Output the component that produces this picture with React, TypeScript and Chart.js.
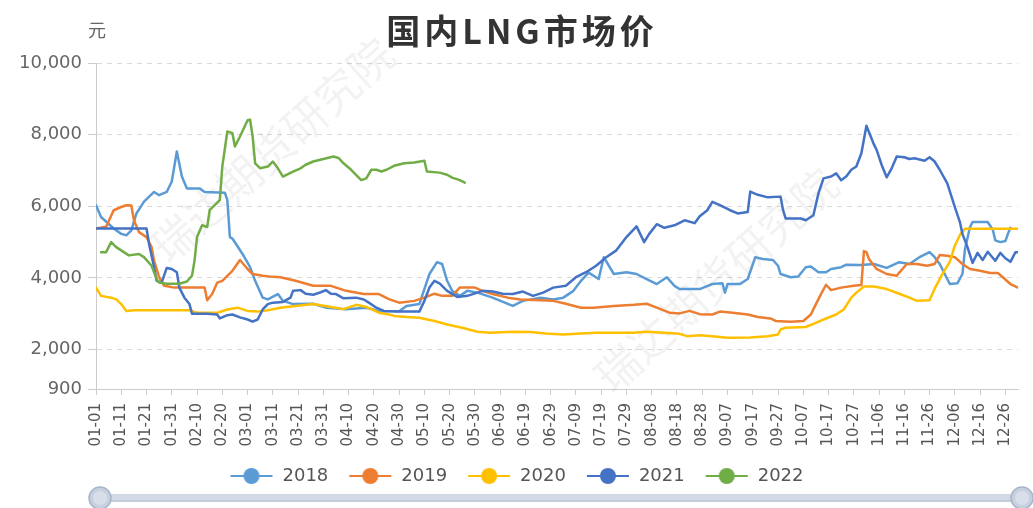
import React, { useEffect, useRef } from 'react';
import { Chart, registerables } from 'chart.js';

Chart.register(...registerables);

const chartTitle = '国内LNG市场价';
const unitLabel = '元';
const watermarkText = '瑞达期货研究院';

const seriesNames = ['2018', '2019', '2020', '2021', '2022'];
const seriesColors = ['#5B9BD5', '#ED7D31', '#FFC000', '#4472C4', '#70AD47'];

const xTickDays = [0, 10, 20, 30, 40, 50, 60, 70, 80, 90, 100, 110, 120, 130, 140, 150, 160, 170, 180, 190, 200, 210, 220, 230, 240, 250, 260, 270, 280, 290, 300, 310, 320, 330, 340, 350, 360];
const xTickLabels = ['01-01', '01-11', '01-21', '01-31', '02-10', '02-20', '03-01', '03-11', '03-21', '03-31', '04-10', '04-20', '04-30', '05-10', '05-20', '05-30', '06-09', '06-19', '06-29', '07-09', '07-19', '07-29', '08-08', '08-18', '08-28', '09-07', '09-17', '09-27', '10-07', '10-17', '10-27', '11-06', '11-16', '11-26', '12-06', '12-16', '12-26'];
const yTickValues = [900, 2000, 4000, 6000, 8000, 10000];

// day of year (0 = 01-01) and price
const d2018 = [0, 2, 7, 10, 12, 14, 16, 19, 23, 25, 28, 30, 32, 34, 36, 41, 43, 51, 52, 53, 54, 58, 61, 63, 66, 68, 72, 74, 78, 86, 91, 99, 107, 112, 120, 123, 128, 132, 135, 137, 139, 141, 144, 147, 151, 157, 165, 169, 176, 181, 185, 189, 192, 195, 199, 201, 205, 210, 214, 218, 222, 226, 229, 231, 239, 244, 248, 249, 250, 255, 258, 261, 264, 268, 270, 271, 275, 278, 281, 283, 286, 289, 291, 295, 297, 303, 308, 313, 318, 322, 326, 330, 332, 334, 336, 338, 341, 343, 344, 346, 347, 353, 355, 356, 358, 360, 361, 362];
const v2018 = [6030, 5700, 5380, 5230, 5190, 5330, 5800, 6130, 6400, 6310, 6400, 6690, 7530, 6830, 6500, 6500, 6400, 6380, 6170, 5140, 5100, 4670, 4300, 3920, 3450, 3400, 3550, 3360, 3270, 3280, 3170, 3125, 3170, 3080, 3070, 3220, 3270, 4110, 4440, 4390, 3920, 3640, 3500, 3640, 3590, 3450, 3220, 3360, 3450, 3400, 3450, 3640, 3920, 4150, 3970, 4580, 4110, 4160, 4110, 3970, 3830, 4020, 3780, 3690, 3690, 3830, 3850, 3590, 3830, 3830, 3970, 4580, 4530, 4500, 4340, 4110, 4020, 4040, 4300, 4320, 4160, 4160, 4250, 4300, 4370, 4360, 4390, 4280, 4440, 4390, 4580, 4720, 4580, 4390, 4110, 3830, 3850, 4110, 4800, 5420, 5560, 5560, 5350, 5050, 5000, 5030, 5230, 5400];

const d2019 = [0, 4, 7, 10, 12, 14, 15, 17, 20, 22, 23, 25, 27, 31, 43, 44, 46, 48, 50, 54, 57, 60, 62, 66, 70, 73, 79, 86, 93, 99, 106, 112, 116, 120, 126, 130, 134, 137, 141, 144, 150, 153, 157, 163, 168, 176, 181, 186, 192, 197, 205, 213, 218, 222, 227, 231, 235, 239, 244, 247, 252, 258, 262, 267, 269, 275, 280, 283, 285, 287, 289, 291, 295, 300, 303, 304, 305, 306, 309, 313, 317, 318, 321, 325, 329, 332, 334, 337, 340, 343, 346, 350, 354, 357, 359, 362, 365];
const v2019 = [5380, 5430, 5890, 5980, 6030, 6020, 5610, 5280, 5140, 4860, 4480, 4020, 3780, 3730, 3730, 3380, 3550, 3870, 3920, 4200, 4500, 4250, 4110, 4060, 4030, 4020, 3920, 3780, 3780, 3640, 3550, 3550, 3410, 3310, 3360, 3450, 3560, 3500, 3500, 3730, 3730, 3640, 3550, 3450, 3400, 3380, 3360, 3280, 3170, 3170, 3220, 3250, 3280, 3170, 3030, 3010, 3080, 2990, 2980, 3060, 3030, 2980, 2910, 2870, 2800, 2780, 2800, 2980, 3270, 3550, 3810, 3660, 3730, 3780, 3800, 4750, 4720, 4530, 4250, 4110, 4060, 4150, 4390, 4390, 4340, 4390, 4640, 4620, 4580, 4390, 4250, 4200, 4140, 4140, 4020, 3830, 3730];

const d2020 = [0, 2, 6, 8, 10, 12, 15, 20, 37, 40, 48, 52, 56, 60, 64, 68, 73, 79, 86, 93, 98, 103, 107, 112, 116, 118, 123, 128, 134, 139, 145, 151, 156, 165, 172, 178, 185, 192, 198, 205, 213, 218, 225, 231, 234, 239, 244, 250, 259, 266, 270, 271, 273, 281, 284, 288, 293, 296, 299, 301, 304, 308, 313, 318, 322, 325, 330, 332, 335, 338, 340, 342, 344, 365];
const v2020 = [3730, 3500, 3450, 3400, 3270, 3080, 3100, 3100, 3100, 3030, 3030, 3120, 3170, 3080, 3060, 3100, 3170, 3220, 3270, 3190, 3130, 3250, 3190, 3030, 2980, 2940, 2910, 2890, 2800, 2700, 2610, 2500, 2470, 2500, 2490, 2450, 2420, 2450, 2470, 2470, 2470, 2500, 2470, 2440, 2375, 2400, 2375, 2330, 2340, 2370, 2420, 2560, 2610, 2630, 2720, 2840, 2980, 3120, 3450, 3590, 3760, 3760, 3690, 3560, 3450, 3360, 3380, 3700, 4100, 4450, 4900, 5200, 5370, 5370];

const d2021 = [0, 20, 21, 23, 24, 26, 28, 30, 32, 33, 35, 37, 38, 44, 48, 49, 52, 54, 57, 60, 62, 64, 66, 68, 70, 74, 77, 78, 81, 83, 86, 89, 91, 93, 95, 98, 103, 106, 108, 111, 114, 120, 128, 130, 132, 134, 136, 139, 143, 147, 151, 153, 157, 161, 165, 169, 173, 177, 181, 186, 190, 194, 198, 202, 206, 210, 214, 217, 219, 222, 225, 229, 233, 237, 239, 242, 244, 247, 251, 254, 258, 259, 262, 266, 271, 272, 273, 279, 281, 284, 286, 288, 291, 293, 295, 297, 299, 301, 303, 305, 308, 309, 311, 313, 315, 317, 320, 322, 324, 328, 330, 332, 334, 337, 340, 342, 343, 345, 347, 349, 351, 353, 356, 358, 360, 362, 364, 365];
const v2021 = [5380, 5380, 4950, 4300, 3920, 3870, 4280, 4250, 4160, 3730, 3450, 3270, 3000, 3000, 2980, 2870, 2960, 2980, 2900, 2840, 2780, 2840, 3120, 3270, 3310, 3330, 3450, 3640, 3660, 3560, 3530, 3600, 3660, 3560, 3550, 3430, 3450, 3400, 3310, 3170, 3080, 3060, 3060, 3360, 3730, 3920, 3850, 3640, 3470, 3500, 3590, 3640, 3620, 3560, 3550, 3620, 3500, 3590, 3730, 3780, 4020, 4160, 4340, 4580, 4770, 5140, 5440, 5000, 5230, 5500, 5400, 5470, 5610, 5530, 5720, 5890, 6125, 6030, 5890, 5800, 5840, 6410, 6320, 6250, 6270, 5890, 5660, 5660, 5610, 5750, 6360, 6780, 6830, 6920, 6730, 6830, 7020, 7110, 7480, 8250, 7720, 7580, 7160, 6810, 7060, 7390, 7370, 7320, 7340, 7270, 7370, 7250, 7020, 6640, 5980, 5560, 5230, 4860, 4420, 4700, 4500, 4730, 4480, 4700, 4550, 4450, 4720, 4720];

const d2022 = [2, 4, 6, 8, 11, 13, 17, 19, 22, 24, 25, 28, 33, 36, 38, 39, 40, 42, 44, 45, 47, 49, 50, 52, 54, 55, 57, 60, 61, 62, 63, 65, 68, 70, 72, 74, 78, 81, 83, 86, 90, 94, 96, 98, 101, 105, 107, 109, 111, 113, 115, 118, 122, 126, 130, 131, 136, 139, 141, 144, 146];
const v2022 = [4720, 4720, 5000, 4860, 4720, 4630, 4670, 4580, 4340, 3970, 3870, 3840, 3840, 3900, 4060, 4480, 5140, 5470, 5420, 5890, 6030, 6170, 7110, 8090, 8040, 7670, 7950, 8400, 8420, 7950, 7200, 7060, 7110, 7250, 7060, 6830, 6970, 7060, 7160, 7250, 7320, 7390, 7350, 7200, 7020, 6730, 6780, 7020, 7020, 6970, 7020, 7130, 7200, 7220, 7270, 6970, 6940, 6880, 6800, 6730, 6660];

const seriesDays = [d2018, d2019, d2020, d2021, d2022];
const seriesValues = [v2018, v2019, v2020, v2021, v2022];

function makeLegendIcon(color: string): HTMLCanvasElement {
  const c = document.createElement('canvas');
  c.width = 44;
  c.height = 20;
  const g = c.getContext('2d')!;
  g.strokeStyle = color;
  g.lineWidth = 2;
  g.beginPath();
  g.moveTo(1, 10);
  g.lineTo(43, 10);
  g.stroke();
  g.fillStyle = color;
  g.beginPath();
  g.arc(22, 10, 8, 0, Math.PI * 2);
  g.fill();
  return c;
}

const decorPlugin = {
  id: 'decor',
  beforeDatasetsDraw(chart: any) {
    const ctx = chart.ctx as CanvasRenderingContext2D;
    const marks = [
      [272, 150],
      [716, 280],
    ];
    marks.forEach(([cx, cy]) => {
      ctx.save();
      ctx.translate(cx, cy);
      ctx.rotate((-42 * Math.PI) / 180);
      ctx.font = '44px "Noto Sans CJK SC"';
      ctx.fillStyle = 'rgba(0,0,0,0.05)';
      ctx.textAlign = 'center';
      ctx.textBaseline = 'middle';
      ctx.fillText(watermarkText, 0, 0);
      ctx.restore();
    });
  },
  afterDraw(chart: any) {
    const ctx = chart.ctx as CanvasRenderingContext2D;
    const area = chart.chartArea;

    // title
    ctx.save();
    ctx.font = 'bold 34px "Noto Sans CJK SC"';
    (ctx as any).letterSpacing = '4px';
    ctx.fillStyle = '#333';
    ctx.textAlign = 'center';
    ctx.textBaseline = 'middle';
    ctx.fillText(chartTitle, 522, 31);
    ctx.restore();

    // unit
    ctx.save();
    ctx.font = '18px "Noto Sans CJK SC"';
    ctx.fillStyle = '#666';
    ctx.textAlign = 'center';
    ctx.textBaseline = 'middle';
    ctx.fillText(unitLabel, area.left + 1, 30);
    ctx.restore();

    // data-zoom slider
    const x0 = area.left + 4;
    const x1 = 1022;
    const yc = 498;
    ctx.save();
    ctx.fillStyle = '#d3dae6';
    ctx.fillRect(x0, yc - 4, x1 - x0, 8);
    ctx.fillStyle = '#c4cddc';
    ctx.fillRect(x0, yc + 2, x1 - x0, 2);
    [x0, x1].forEach((hx) => {
      ctx.beginPath();
      ctx.arc(hx, yc, 11, 0, Math.PI * 2);
      ctx.fillStyle = '#c7d0df';
      ctx.fill();
      ctx.lineWidth = 1.5;
      ctx.strokeStyle = '#a9b6ca';
      ctx.stroke();
      ctx.beginPath();
      ctx.arc(hx, yc, 7, 0, Math.PI * 2);
      ctx.fillStyle = '#d8dfea';
      ctx.fill();
    });
    ctx.restore();
  },
};

export default function App() {
  const ref = useRef<HTMLCanvasElement>(null);

  useEffect(() => {
    if (!ref.current) return;
    const icons = seriesColors.map((c) => makeLegendIcon(c));
    const datasets = seriesNames.map((name, i) => ({
      label: name,
      data: seriesDays[i].map((d, j) => ({ x: d, y: seriesValues[i][j] })),
      borderColor: seriesColors[i],
      backgroundColor: seriesColors[i],
      borderWidth: 2.5,
      pointRadius: 0,
      pointHoverRadius: 0,
      tension: 0,
      borderJoinStyle: 'round' as const,
      borderCapStyle: 'round' as const,
      order: seriesNames.length - i,
    }));

    const chart = new Chart(ref.current, {
      type: 'line',
      data: { datasets },
      plugins: [decorPlugin],
      options: {
        responsive: false,
        animation: false,
        devicePixelRatio: 1,
        layout: { padding: { left: 15, right: 15, top: 63, bottom: 13 } },
        font: { family: '"DejaVu Sans", sans-serif' },
        plugins: {
          title: { display: false },
          legend: {
            display: true,
            position: 'bottom',
            labels: {
              usePointStyle: true,
              pointStyleWidth: 44,
              padding: 20,
              color: '#555',
              font: { family: '"DejaVu Sans", sans-serif', size: 18 },
              generateLabels: (c: any) => {
                const items = Chart.defaults.plugins.legend.labels.generateLabels(c);
                items.sort((a: any, b: any) => a.datasetIndex - b.datasetIndex);
                items.forEach((it: any) => {
                  it.pointStyle = icons[it.datasetIndex];
                  it.fontColor = '#555';
                });
                return items;
              },
            },
          },
          tooltip: { enabled: false },
        },
        scales: {
          x: {
            type: 'linear',
            min: 0,
            max: 365,
            afterBuildTicks: (s: any) => {
              s.ticks = xTickDays.map((v) => ({ value: v }));
            },
            afterFit: (s: any) => {
              s.height = 58;
            },
            ticks: {
              autoSkip: false,
              maxRotation: 90,
              minRotation: 90,
              padding: 8,
              color: '#555',
              font: { family: '"DejaVu Sans", sans-serif', size: 15 },
              callback: (_v: any, i: number) => xTickLabels[i],
            },
            grid: {
              display: true,
              drawOnChartArea: false,
              drawTicks: true,
              tickLength: 6,
              tickColor: '#cccccc',
            },
            border: { display: true, color: '#cccccc' },
          },
          y: {
            type: 'linear',
            min: 900,
            max: 10000,
            afterBuildTicks: (s: any) => {
              s.ticks = yTickValues.map((v) => ({ value: v }));
            },
            afterFit: (s: any) => {
              s.width = 81;
            },
            ticks: {
              padding: 6,
              color: '#666',
              font: { family: '"DejaVu Sans", sans-serif', size: 18 },
              callback: (v: any) => Number(v).toLocaleString('en-US'),
            },
            grid: {
              color: (ctx: any) => (ctx.tick && ctx.tick.value === 900 ? 'rgba(0,0,0,0)' : '#d9d9d9'),
              drawTicks: true,
              tickLength: 8,
              tickColor: '#cccccc',
            },
            border: { display: true, color: '#cccccc', dash: [5, 5] },
          },
        },
      },
    } as any);

    return () => chart.destroy();
  }, []);

  return (
    <div style={{ position: 'fixed', left: 0, top: 0, width: 1033, height: 508, background: '#fff' }}>
      <canvas ref={ref} width={1033} height={508} style={{ display: 'block', width: 1033, height: 508 }} />
    </div>
  );
}
